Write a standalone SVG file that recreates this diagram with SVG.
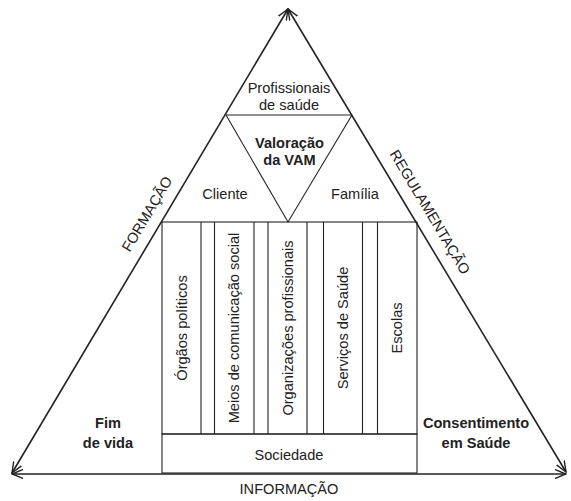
<svg xmlns="http://www.w3.org/2000/svg" width="571" height="501" viewBox="0 0 571 501">
<style>
text{font-family:"Liberation Sans",Arial,sans-serif;font-size:14.6px;fill:#222;}
.b{font-weight:bold;}
.edge{stroke:#222;stroke-width:1.6;fill:none;}
.thin{stroke:#222;stroke-width:1.1;fill:none;}
</style>
<defs>
<marker id="ah" markerUnits="userSpaceOnUse" markerWidth="12" markerHeight="10" refX="11" refY="5" orient="auto-start-reverse" viewBox="0 0 12 10">
<path d="M0,0.5 L11,5 L0,9.5" fill="none" stroke="#222" stroke-width="1.4"/>
</marker>
</defs>
<g id="connectors">
<line class="edge" x1="288" y1="9" x2="12" y2="473" marker-start="url(#ah)" marker-end="url(#ah)"/>
<line class="edge" x1="288" y1="9" x2="566" y2="472" marker-start="url(#ah)" marker-end="url(#ah)"/>
<line class="edge" x1="12" y1="474" x2="566" y2="474" stroke-width="2" marker-start="url(#ah)" marker-end="url(#ah)"/>
</g>
<g id="profissionais">
<line class="thin" x1="226" y1="115" x2="352" y2="115"/>
<text x="289" y="93" text-anchor="middle">Profissionais</text>
<text x="289" y="110" text-anchor="middle">de saúde</text>
</g>
<g id="valoracao">
<polyline class="thin" points="226,115 288,222 352,115"/>
<text class="b" x="289.5" y="148" text-anchor="middle">Valoração</text>
<text class="b" x="289.5" y="165" text-anchor="middle">da VAM</text>
</g>
<g id="cliente"><text x="225" y="199" text-anchor="middle">Cliente</text></g>
<g id="familia"><text x="355" y="199" text-anchor="middle">Família</text></g>
<g id="columns">
<rect class="thin" x="162" y="222" width="255" height="212"/>
<line class="thin" x1="201" y1="222" x2="201" y2="434"/>
<line class="thin" x1="214.5" y1="222" x2="214.5" y2="434"/>
<line class="thin" x1="254" y1="222" x2="254" y2="434"/>
<line class="thin" x1="268" y1="222" x2="268" y2="434"/>
<line class="thin" x1="307" y1="222" x2="307" y2="434"/>
<line class="thin" x1="323.5" y1="222" x2="323.5" y2="434"/>
<line class="thin" x1="362.5" y1="222" x2="362.5" y2="434"/>
<line class="thin" x1="377.5" y1="222" x2="377.5" y2="434"/>
<text transform="translate(186.5,328) rotate(-90)" text-anchor="middle">Órgãos políticos</text>
<text transform="translate(239,328) rotate(-90)" text-anchor="middle">Meios de comunicação social</text>
<text transform="translate(292.5,328) rotate(-90)" text-anchor="middle">Organizações profissionais</text>
<text transform="translate(348,328) rotate(-90)" text-anchor="middle">Serviços de Saúde</text>
<text transform="translate(402,328) rotate(-90)" text-anchor="middle">Escolas</text>
</g>
<g id="sociedade">
<rect class="thin" x="162" y="434" width="255" height="39"/>
<text x="289" y="460" text-anchor="middle">Sociedade</text>
</g>
<g id="fim-de-vida">
<text class="b" x="108" y="428" text-anchor="middle">Fim</text>
<text class="b" x="108" y="448" text-anchor="middle">de vida</text>
</g>
<g id="consentimento">
<text class="b" x="476" y="428" text-anchor="middle">Consentimento</text>
<text class="b" x="476" y="448" text-anchor="middle">em Saúde</text>
</g>
<g id="labels">
<text transform="translate(151.3,216.6) rotate(-59.25)" text-anchor="middle">FORMAÇÃO</text>
<text transform="translate(425.7,214.6) rotate(59.1)" text-anchor="middle">REGULAMENTAÇÃO</text>
<text x="289" y="494" text-anchor="middle">INFORMAÇÃO</text>
</g>
</svg>
